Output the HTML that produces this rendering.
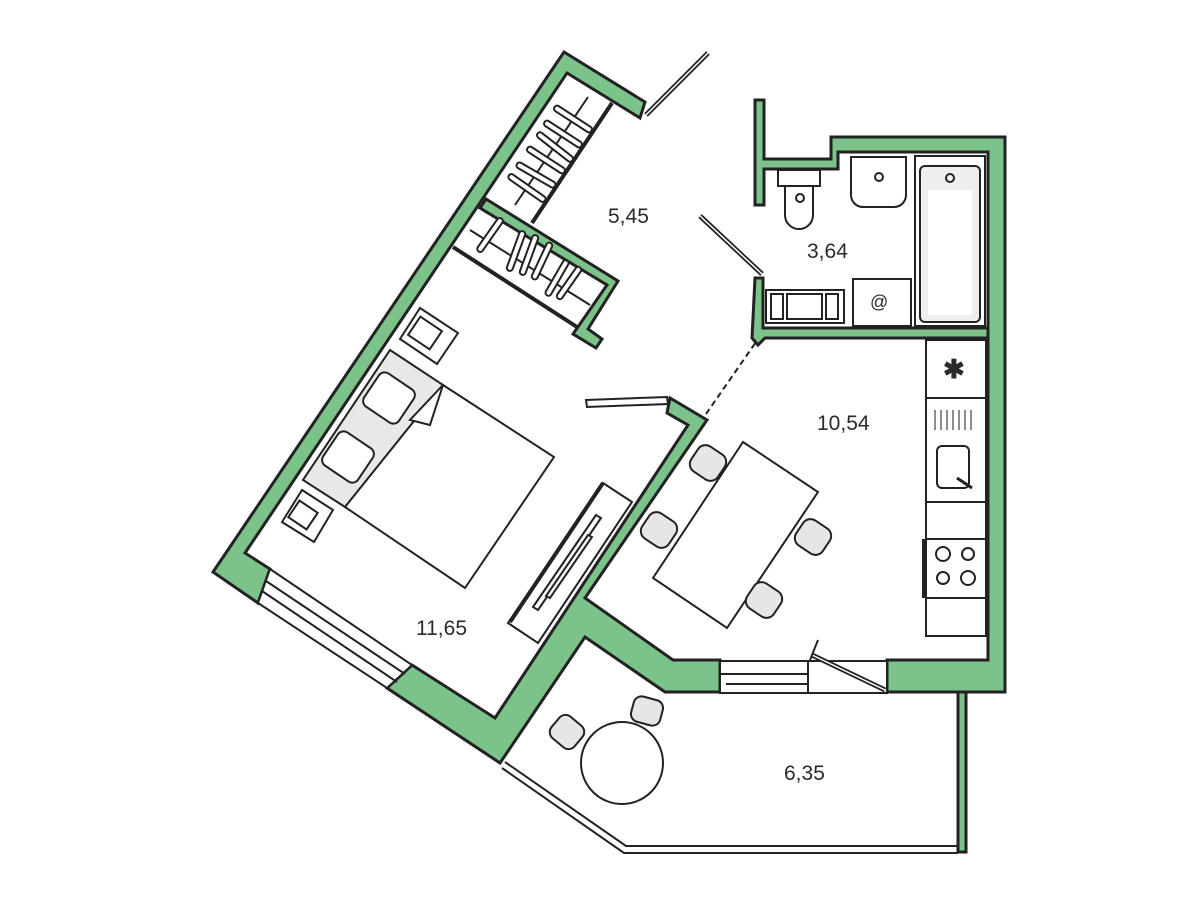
<!DOCTYPE html>
<html><head><meta charset="utf-8"><style>
html,body{margin:0;padding:0;background:#fff;}
svg{display:block}
text{font-family:"Liberation Sans",sans-serif;font-size:21px;fill:#2a2a2a;}
</style></head><body>
<svg width="1200" height="900" viewBox="0 0 1200 900" xmlns="http://www.w3.org/2000/svg">
<g fill="#7cc38b" stroke="#222" stroke-width="3" stroke-linejoin="miter">
<polygon points="564,52 645,102 640,118 567,73 245,553 270,569 258,603 213,572"/>
<polygon points="387,688 412,665 495,718 688,425 667,413 670,398 707,420 585,598 673,660 720,660 720,692 665,692 585,637 500,763"/>
<polygon points="831,137 1005,137 1005,692 887,692 887,660 988,660 988,152 838,152 838,169 764,169 764,205 755,205 755,100 764,100 764,159 831,159"/>
<polygon points="755,278 763,278 763,328 988,328 988,338 765,338 758,345 752,338"/>
<polygon points="480,208 486,199 618,281 588,329 602,339 596,348 573,334 607,285"/>
<polygon points="958,692 966,692 966,852 958,852"/>
</g>
<g fill="none" stroke="#222" stroke-width="2">
<polygon points="270,569 412,665 387,688 258,603" fill="#fff"/>
<line x1="266" y1="581" x2="405" y2="674"/>
<line x1="262" y1="591" x2="397" y2="682"/>
<rect x="720" y="661" width="88" height="32" fill="#fff"/>
<line x1="720" y1="674" x2="808" y2="674"/>
<line x1="726" y1="684" x2="808" y2="684"/>
<rect x="808" y="661" width="79" height="32" fill="#fff"/>
<line x1="812" y1="655" x2="885" y2="690" stroke-width="5"/>
<line x1="812" y1="655" x2="885" y2="690" stroke="#fff" stroke-width="1.5"/>
<line x1="810" y1="660" x2="818" y2="640"/>
<polyline points="505,762 626,846 958,846"/>
<polyline points="502,768 624,853 958,853"/>
<line x1="646" y1="115" x2="708" y2="53" stroke-width="5"/>
<line x1="646" y1="115" x2="708" y2="53" stroke="#fff" stroke-width="1.5"/>
<line x1="700" y1="216" x2="762" y2="274" stroke-width="5"/>
<line x1="700" y1="216" x2="762" y2="274" stroke="#fff" stroke-width="1.5"/>
<polygon points="586,400 667,397 668,404 587,407" fill="#fff"/>
<line x1="706" y1="414" x2="756" y2="342" stroke-dasharray="6,4"/>
<line x1="612" y1="103" x2="532" y2="223" stroke-width="4"/>
<line x1="453" y1="247" x2="577" y2="327" stroke-width="4"/>
</g>
<g stroke="#222" stroke-width="2" fill="#fff">
<line x1="588" y1="97" x2="515" y2="205"/>
<rect x="551" y="116" width="44" height="6" rx="3" transform="rotate(33 573 119)"/>
<rect x="541" y="131" width="44" height="6" rx="3" transform="rotate(33 563 134)"/>
<rect x="533" y="144" width="44" height="6" rx="3" transform="rotate(38 555 147)"/>
<rect x="524" y="157" width="44" height="6" rx="3" transform="rotate(33 546 160)"/>
<rect x="514" y="172" width="44" height="6" rx="3" transform="rotate(30 536 175)"/>
<rect x="505" y="185" width="44" height="6" rx="3" transform="rotate(35 527 188)"/>
<line x1="470" y1="230" x2="590" y2="305"/>
<rect x="470" y="232" width="40" height="6" rx="3" transform="rotate(-55 490 235)"/>
<rect x="495" y="248" width="42" height="6" rx="3" transform="rotate(-70 516 251)"/>
<rect x="508" y="252" width="42" height="6" rx="3" transform="rotate(-70 529 255)"/>
<rect x="522" y="258" width="40" height="6" rx="3" transform="rotate(-65 542 261)"/>
<rect x="537" y="275" width="40" height="6" rx="3" transform="rotate(-60 557 278)"/>
<rect x="550" y="280" width="38" height="6" rx="3" transform="rotate(-55 569 283)"/>
</g>
<g stroke="#222" stroke-width="2" fill="#fff">
<polygon points="390,350 443,385 345,507 303,480" fill="#e8e8e8"/>
<polygon points="443,385 554,457 465,588 345,507"/>
<polygon points="443,385 430,425 410,420" />
<rect x="368" y="378" width="42" height="40" rx="7" transform="rotate(34 389 398)"/>
<rect x="327" y="437" width="42" height="40" rx="7" transform="rotate(34 348 457)"/>
<polygon points="420,308 458,333 437,364 400,339"/>
<rect x="412" y="322" width="26" height="22" transform="rotate(34 425 333)"/>
<polygon points="302,490 333,510 314,542 282,522"/>
<rect x="292" y="505" width="22" height="20" transform="rotate(34 303 515)"/>
<polygon points="603,483 632,502 538,643 508,623"/>
<line x1="603" y1="483" x2="510" y2="622" stroke-width="4"/>
<polygon points="596,515 601,518 538,610 533,607"/>
<polygon points="588,535 592,537 550,598 546,596"/>
</g>
<g stroke="#222" stroke-width="2" fill="#fff">
<polygon points="743,442 818,492 727,628 653,578"/>
<rect x="692" y="448" width="32" height="30" rx="9" fill="#e6e6e6" transform="rotate(34 708 463)"/>
<rect x="643" y="515" width="32" height="30" rx="9" fill="#e6e6e6" transform="rotate(34 659 530)"/>
<rect x="797" y="522" width="32" height="30" rx="9" fill="#e6e6e6" transform="rotate(34 813 537)"/>
<rect x="748" y="585" width="32" height="30" rx="9" fill="#e6e6e6" transform="rotate(34 764 600)"/>
<rect x="926" y="340" width="60" height="296"/>
<line x1="926" y1="398" x2="986" y2="398"/>
<line x1="926" y1="502" x2="986" y2="502"/>
<line x1="926" y1="539" x2="986" y2="539"/>
<line x1="926" y1="598" x2="986" y2="598"/>
<line x1="924" y1="539" x2="924" y2="598" stroke-width="4"/>
<rect x="937" y="446" width="32" height="42" rx="5"/>
<line x1="957" y1="478" x2="972" y2="488" stroke-width="3"/>
<circle cx="943" cy="554" r="7"/><circle cx="968" cy="554" r="6"/>
<circle cx="943" cy="578" r="6"/><circle cx="968" cy="578" r="7"/>
<circle cx="622" cy="763" r="41"/>
<rect x="552" y="718" width="30" height="28" rx="8" fill="#e6e6e6" transform="rotate(40 567 732)"/>
<rect x="632" y="698" width="30" height="26" rx="8" fill="#e6e6e6" transform="rotate(15 647 711)"/>
</g>
<g stroke="#666" stroke-width="1.5"><line x1="935" y1="410" x2="935" y2="430"/><line x1="941" y1="410" x2="941" y2="430"/><line x1="947" y1="410" x2="947" y2="430"/><line x1="953" y1="410" x2="953" y2="430"/><line x1="959" y1="410" x2="959" y2="430"/><line x1="965" y1="410" x2="965" y2="430"/><line x1="971" y1="410" x2="971" y2="430"/></g>
<text x="943" y="378" style="font-size:26px;font-weight:bold">✱</text>
<g stroke="#222" stroke-width="2" fill="#fff">
<rect x="778" y="170" width="42" height="16"/>
<path d="M785 186 L785 215 A14 14 0 0 0 813 215 L813 186 Z"/>
<circle cx="800" cy="198" r="4"/>
<path d="M851 157 L906 157 L906 195 A12 12 0 0 1 894 207 L863 207 A12 12 0 0 1 851 195 Z"/>
<circle cx="879" cy="177" r="4"/>
<rect x="915" y="156" width="70" height="170"/>
<rect x="920" y="166" width="60" height="156" rx="5" fill="#eee"/>
<rect x="928" y="190" width="44" height="125" fill="#fff" stroke="none"/>
<circle cx="950" cy="178" r="4"/>
<rect x="766" y="290" width="78" height="33"/>
<rect x="771" y="294" width="12" height="25"/><rect x="787" y="294" width="35" height="25"/><rect x="826" y="294" width="12" height="25"/>
<rect x="853" y="279" width="58" height="47"/>
</g>
<text x="870" y="308" style="font-size:18px">@</text>
<text x="608" y="223">5,45</text>
<text x="807" y="258">3,64</text>
<text x="817" y="430">10,54</text>
<text x="416" y="635">11,65</text>
<text x="784" y="780">6,35</text>
</svg>
</body></html>
